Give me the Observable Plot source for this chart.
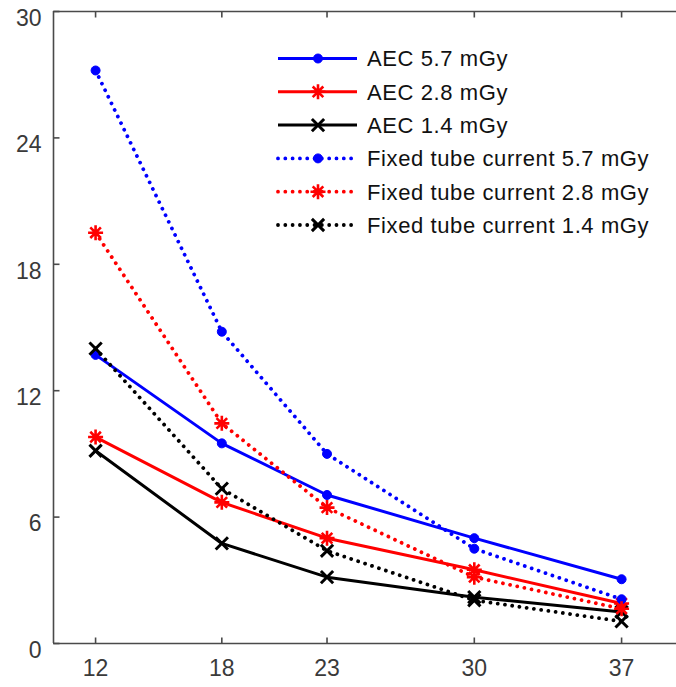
<!DOCTYPE html>
<html>
<head>
<meta charset="utf-8">
<script src="https://cdn.jsdelivr.net/npm/d3@7"></script>
<script src="https://cdn.jsdelivr.net/npm/@observablehq/plot@0.6"></script>
<style>
  html, body { margin: 0; padding: 0; background: #fff; }
</style>
</head>
<body>
<div id="chart"></div>
<script>
// ---- data ----
const sizes = [12, 18, 23, 30, 37];
const seriesNames = [
  "AEC 5.7 mGy",
  "AEC 2.8 mGy",
  "AEC 1.4 mGy",
  "Fixed tube current 5.7 mGy",
  "Fixed tube current 2.8 mGy",
  "Fixed tube current 1.4 mGy"
];
const aec57 = [13.7, 9.5, 7.05, 5.0, 3.05];
const aec28 = [9.8, 6.7, 5.0, 3.5, 1.9];
const aec14 = [9.15, 4.75, 3.15, 2.2, 1.5];
const fix57 = [27.2, 14.8, 9.0, 4.5, 2.1];
const fix28 = [19.5, 10.45, 6.45, 3.15, 1.65];
const fix14 = [14.0, 7.35, 4.4, 2.05, 1.05];
const yTicks = [0, 6, 12, 18, 24, 30];
const xTicks = [12, 18, 23, 30, 37];

// ---- styles ----
const seriesValues = [aec57, aec28, aec14, fix57, fix28, fix14];
const colors = ["#0000ff", "#ff0000", "#000000", "#0000ff", "#ff0000", "#000000"];
const dotted = "0.01,7.3";
const dashes = [null, null, null, dotted, dotted, dotted];
const axisColor = "#4a4a4a";
const font = "Arial, 'Liberation Sans', Helvetica, sans-serif";

const symAsterisk = {
  draw(ctx, size) {
    const r = Math.sqrt(size / Math.PI);
    const d = r * Math.SQRT1_2;
    ctx.moveTo(-r, 0); ctx.lineTo(r, 0);
    ctx.moveTo(0, -r); ctx.lineTo(0, r);
    ctx.moveTo(-d, -d); ctx.lineTo(d, d);
    ctx.moveTo(-d, d); ctx.lineTo(d, -d);
  }
};
const symTimes = {
  draw(ctx, size) {
    const r = Math.sqrt(size / Math.PI) * 0.72;
    ctx.moveTo(-r, -r); ctx.lineTo(r, r);
    ctx.moveTo(-r, r); ctx.lineTo(r, -r);
  }
};
const tickLen = 6;
const tickUp = {draw(ctx) { ctx.moveTo(0, 0); ctx.lineTo(0, -tickLen); }};
const tickDown = {draw(ctx) { ctx.moveTo(0, 0); ctx.lineTo(0, tickLen); }};
const tickRight = {draw(ctx) { ctx.moveTo(0, 0); ctx.lineTo(tickLen, 0); }};

const markerKinds = ["circle", "asterisk", "times", "circle", "asterisk", "times"];
const markerSpec = {
  circle: {symbol: "circle", r: 4.5, filled: true, sw: 1},
  asterisk: {symbol: symAsterisk, r: 7.5, filled: false, sw: 2.6},
  times: {symbol: symTimes, r: 8.5, filled: false, sw: 3}
};

const rows = [];
seriesNames.forEach((name, i) => {
  sizes.forEach((s, j) => rows.push({series: name, idx: i, size: s, value: seriesValues[i][j]}));
});

function seriesMarks(i) {
  const data = rows.filter(d => d.idx === i);
  const m = markerSpec[markerKinds[i]];
  return [
    Plot.line(data, {
      x: "size", y: "value",
      stroke: colors[i],
      strokeWidth: dashes[i] ? 3.8 : 3,
      strokeDasharray: dashes[i] || undefined,
      strokeLinecap: dashes[i] ? "round" : "butt"
    }),
    Plot.dot(data, {
      x: "size", y: "value",
      symbol: m.symbol, r: m.r,
      fill: m.filled ? colors[i] : "none",
      stroke: colors[i], strokeWidth: m.sw
    })
  ];
}

// legend (drawn inside the plot, top right)
const legendX0 = 278, legendX1 = 357, legendMarkX = 318, legendTextX = 367;
const legendTop = 58.5, legendStep = 33.3;
function legendMark() {
  const g = d3.create("svg:g")
    .attr("font-family", font)
    .attr("font-size", 22)
    .attr("text-anchor", "start");
  seriesNames.forEach((name, i) => {
    const yy = legendTop + i * legendStep;
    const line = g.append("line")
      .attr("x1", legendX0).attr("x2", legendX1)
      .attr("y1", yy).attr("y2", yy)
      .attr("stroke", colors[i])
      .attr("stroke-width", dashes[i] ? 3.8 : 3);
    if (dashes[i]) line.attr("stroke-dasharray", dashes[i]).attr("stroke-linecap", "round");
    const m = markerSpec[markerKinds[i]];
    const symType = m.symbol === "circle" ? d3.symbolCircle : m.symbol;
    g.append("path")
      .attr("transform", `translate(${legendMarkX},${yy})`)
      .attr("d", d3.symbol(symType, m.r * m.r * Math.PI)())
      .attr("fill", m.filled ? colors[i] : "none")
      .attr("stroke", colors[i])
      .attr("stroke-width", m.sw);
    g.append("text")
      .attr("x", legendTextX).attr("y", yy).attr("dy", "0.36em")
      .attr("fill", "#111")
      .style("letter-spacing", "0.6px")
      .text(name);
  });
  return g.node();
}

const chart = Plot.plot({
  width: 676,
  height: 687,
  marginLeft: 53,
  marginRight: 0,
  marginTop: 11,
  marginBottom: 44,
  style: {fontFamily: font, background: "#fff", overflow: "visible"},
  x: {type: "linear", domain: [10, 39.61], axis: null},
  y: {domain: [0, 30], axis: null},
  marks: [
    // frame lines
    Plot.ruleX([10], {stroke: axisColor, strokeWidth: 1.6}),
    Plot.ruleY([0], {stroke: axisColor, strokeWidth: 1.6}),
    Plot.ruleY([30], {stroke: axisColor, strokeWidth: 1.6}),
    // inward ticks
    Plot.dot(xTicks, {x: d => d, frameAnchor: "bottom", symbol: tickUp, fill: "none", stroke: axisColor, strokeWidth: 1.6}),
    Plot.dot(xTicks, {x: d => d, frameAnchor: "top", symbol: tickDown, fill: "none", stroke: axisColor, strokeWidth: 1.6}),
    Plot.dot(yTicks, {y: d => d, frameAnchor: "left", symbol: tickRight, fill: "none", stroke: axisColor, strokeWidth: 1.6}),
    // tick labels
    Plot.text(yTicks, {y: d => d, frameAnchor: "left", text: d => String(d), textAnchor: "end", dx: -12, dy: 7, fontSize: 23, fill: "#3a3a3a", style: "letter-spacing:1.5px"}),
    Plot.text(xTicks, {x: d => d, frameAnchor: "bottom", text: d => String(d), dy: 32, fontSize: 23, fill: "#3a3a3a", style: "letter-spacing:1px"}),
    // series
    ...seriesNames.flatMap((_, i) => seriesMarks(i)),
    legendMark
  ]
});
document.getElementById("chart").appendChild(chart);
</script>
</body>
</html>
